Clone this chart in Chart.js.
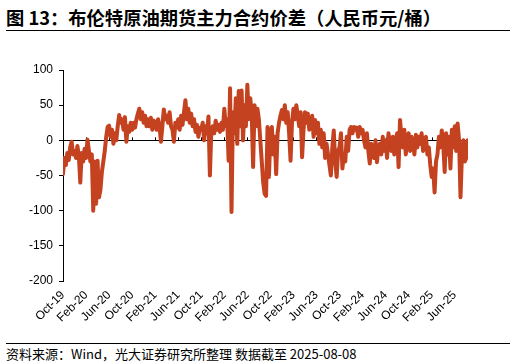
<!DOCTYPE html>
<html>
<head>
<meta charset="utf-8">
<script src="https://cdn.jsdelivr.net/npm/chart.js@4/dist/chart.umd.min.js"></script>
<style>
  html, body { margin: 0; padding: 0; background: #fff; }
  #wrap { position: relative; width: 516px; height: 364px; overflow: hidden; }
  #title { position: absolute; left: 6px; top: 4px; width: 504px; height: 26px;
           border-bottom: 1px solid #000; font-family: "Noto Sans CJK SC", sans-serif;
           font-weight: bold; font-size: 18.3px; line-height: 26px; color: #000; white-space: nowrap; }
  #src { position: absolute; left: 6px; top: 343px; width: 504px; border-top: 1px solid #000;
         font-family: "Noto Sans CJK SC", sans-serif; font-size: 13px; line-height: 19px; color: #000; white-space: nowrap; }
  #cv { position: absolute; left: 0; top: 40px; }
</style>
</head>
<body>
<div id="wrap">
  <div id="title">图 13：布伦特原油期货主力合约价差（人民币元/桶）</div>
  <canvas id="cv" width="516" height="300"></canvas>
  <div id="src">资料来源：Wind，光大证券研究所整理 数据截至 2025-08-08</div>
</div>
<script>
// Tick labels on the x axis (one every 4 months, starting Oct-19)
const tickLabels = ['Oct-19','Feb-20','Jun-20','Oct-20','Feb-21','Jun-21','Oct-21','Feb-22','Jun-22',
                    'Oct-22','Feb-23','Jun-23','Oct-23','Feb-24','Jun-24','Oct-24','Feb-25','Jun-25'];
const monthsPerTick = 4;
const samplesPerMonth = 4;   // roughly weekly samples, starting Oct 2019
const lastMonth = 70.3;      // data through 2025-08-08

// Spread values (RMB/bbl), 4 samples per month from Oct-19
const spread = [
  -48,-25,-35,-18,  -28,-10,-2,-20,   -15,-25,-8,-22,   -60,-18,-30,-12,   // Oct19-Jan20
  -25,1,-15,-30,    -20,-100,-30,-90, -29,-81,-70,-45,  -30,-15,5,19,      // Feb20-May20
  21,5,15,-5,       10,0,20,36,       25,30,15,33,      -2,20,12,25,       // Jun20-Sep20
  15,25,18,30,      38,45,30,40,      25,35,20,30,      20,32,15,28,       // Oct20-Jan21
  25,15,30,20,      -2,20,44,30,      35,25,40,20,      15,-2,25,18,       // Feb21-May21
  30,15,35,22,      40,57,30,45,      25,38,20,30,      12,22,5,18,        // Jun21-Sep21
  15,25,0,20,       10,34,-50,15,     20,10,28,15,      22,12,25,15,       // Oct21-Jan22
  45,20,30,-29,     74,-102,40,10,    60,-5,70,20,      71,0,50,20,        // Feb22-May22
  79,30,60,40,      -38,50,20,45,     30,0,-30,-60,     -76,-79,19,-52,    // Jun22-Sep22
  10,19,-20,5,      -48,10,25,35,     43,30,50,25,      40,10,-29,25,      // Oct22-Jan23
  45,30,50,35,      20,40,-24,15,     40,25,38,15,      20,35,5,29,        // Feb23-May23
  10,25,-5,15,      -10,10,-25,-5,    -20,-35,-50,-10,  14,-30,-52,-15,    // Jun23-Sep23
  -10,10,-40,-20,   -30,5,-15,15,     19,10,19,15,      18,5,19,10,        // Oct23-Jan24
  15,0,-10,10,      -15,-33,-5,-20,   -25,0,-31,-10,    -5,-20,5,-15,      // Feb24-May24
  0,-25,10,-5,      -15,5,-20,0,      10,-38,29,5,      -10,15,-20,5,      // Jun24-Sep24
  10,-15,5,-5,      -20,8,-10,5,      -5,10,-15,0,      5,-20,-10,-35,     // Oct24-Jan25
  -52,-40,-74,-30,  -20,5,-10,14,     -5,-45,10,-20,    5,-40,15,-10,      // Feb25-May25
  20,-15,24,0,      -81,-20,0,-30,    -25,0                                // Jun25-Aug25
];

const points = spread.map((v, i) => ({ x: i / samplesPerMonth, y: v }));

const zeroTicks = {
  id: 'zeroTicks',
  beforeDatasetsDraw(chart) {
    const xs = chart.scales.x, ys = chart.scales.y;
    const y0 = ys.getPixelForValue(0);
    const ctx = chart.ctx;
    ctx.save();
    ctx.strokeStyle = '#000';
    ctx.lineWidth = 1;
    ctx.beginPath();
    xs.ticks.forEach(t => {
      const px = Math.round(xs.getPixelForValue(t.value)) + 0.5;
      ctx.moveTo(px, y0);
      ctx.lineTo(px, y0 - 3);
    });
    ctx.stroke();
    ctx.restore();
  }
};

new Chart(document.getElementById('cv'), {
  type: 'line',
  data: {
    datasets: [{
      data: points,
      borderColor: '#C4421F',
      borderWidth: 4,
      pointRadius: 0,
      tension: 0,
      borderJoinStyle: 'round',
      borderCapStyle: 'round',
      fill: false
    }]
  },
  options: {
    responsive: false,
    animation: false,
    devicePixelRatio: 1,
    layout: { padding: { left: 0, right: 48, top: 30, bottom: 0 } },
    plugins: { legend: { display: false }, tooltip: { enabled: false } },
    scales: {
      x: {
        type: 'linear',
        min: 0,
        max: lastMonth,
        grid: { display: false, drawTicks: false },
        border: { display: false },
        afterFit(s) { s.height = 59; },
        ticks: {
          stepSize: monthsPerTick,
          includeBounds: false,
          autoSkip: false,
          maxRotation: 45,
          minRotation: 45,
          padding: 7,
          color: '#000',
          font: { family: 'Liberation Sans, Arial, sans-serif', size: 12 },
          callback: (v) => tickLabels[Math.round(v / monthsPerTick)] ?? ''
        }
      },
      y: {
        min: -200,
        max: 100,
        afterFit(s) { s.width = 63; },
        border: { display: true, color: '#000', width: 1 },
        grid: {
          drawOnChartArea: true,
          color: (c) => (c.tick && c.tick.value === 0) ? '#000' : 'rgba(0,0,0,0)',
          tickColor: '#000',
          tickLength: 4,
          lineWidth: 1
        },
        ticks: {
          stepSize: 50,
          padding: 6,
          color: '#000',
          font: { family: 'Liberation Sans, Arial, sans-serif', size: 12 }
        }
      }
    }
  },
  plugins: [zeroTicks]
});
</script>
</body>
</html>
